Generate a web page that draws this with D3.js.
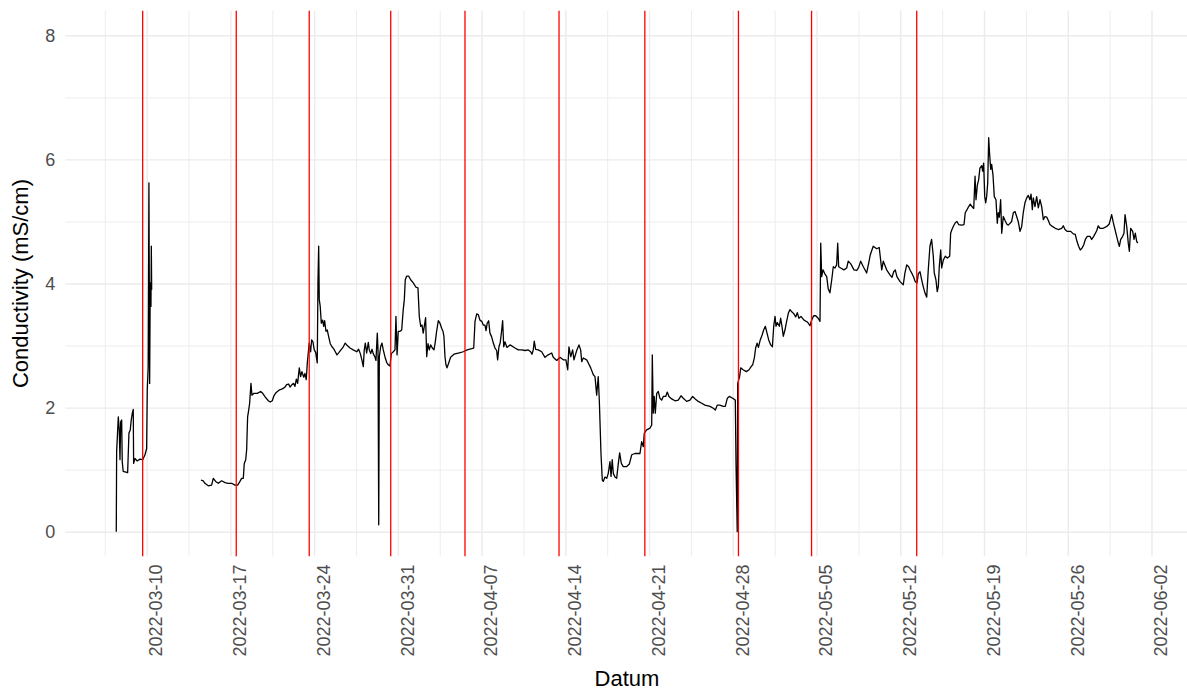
<!DOCTYPE html>
<html><head><meta charset="utf-8">
<script src="https://cdn.jsdelivr.net/npm/d3@7"></script>
<style>
body{margin:0;background:#fff}
svg{display:block}
text{font-family:"Liberation Sans",Arial,Helvetica,sans-serif}
</style>
</head><body>
<svg id="chart" width="1187" height="691"></svg>
<script>
// ---- data ----
const startDate = "2022-03-10T00:00:00Z";           // day 0 of the offsets below
const days = [
-2.54,-2.51,-2.37,-2.29,-2.23,-2.17,-2.09,-2.04,-1.96,-1.59,-1.48,-1.37,-1.29,-1.20,-1.12,-1.09,-0.98,-0.79,-0.56,-0.33,-0.14,0.00,0.05,0.13,0.19,0.25,0.30,0.36,0.39,0.42,
2.00,
4.54,4.73,4.87,5.15,5.43,5.57,5.77,5.99,6.27,6.55,6.82,7.11,7.38,7.61,7.80,7.94,8.08,8.16,8.28,8.36,8.44,8.53,8.61,8.72,8.80,8.97,9.25,9.53,9.70,9.92,
10.17,10.33,10.50,10.64,10.81,11.06,11.34,11.56,11.70,11.87,11.98,12.15,12.29,12.40,12.51,12.62,12.76,12.87,12.98,13.13,13.23,13.34,13.43,13.51,13.59,13.71,13.79,13.90,
14.01,14.13,14.26,14.32,14.38,14.43,14.51,14.60,14.71,14.80,14.88,14.99,15.10,15.22,15.35,15.49,15.63,15.77,15.91,16.08,16.24,16.44,16.60,16.77,17.00,17.27,17.56,17.72,17.86,
18.00,18.11,18.19,18.28,18.39,18.53,18.61,18.73,18.84,18.94,19.09,19.17,19.28,19.34,19.40,19.45,19.56,19.67,19.78,19.92,20.06,20.20,20.34,20.45,20.62,20.76,20.84,20.93,
21.03,21.18,21.32,21.45,21.54,21.62,21.74,21.90,22.07,22.29,22.51,22.68,22.79,22.91,23.02,23.12,23.21,23.32,23.41,23.52,23.63,23.74,23.88,24.02,24.13,24.24,24.38,24.52,24.66,24.77,24.85,24.94,
25.02,25.11,25.25,25.41,25.69,26.13,26.47,26.80,27.17,27.34,27.45,27.59,27.72,27.86,28.01,28.14,28.28,28.37,28.47,28.59,28.70,28.84,28.98,29.12,29.26,29.34,29.45,29.56,29.68,29.76,29.85,29.95,
30.12,30.37,30.56,30.79,31.07,31.35,31.63,31.90,32.10,32.21,32.32,32.40,32.52,32.74,33.02,33.30,33.57,33.86,33.99,34.28,34.55,34.83,35.05,35.20,35.30,35.45,35.61,35.72,35.95,
36.14,36.28,36.37,36.50,36.78,36.92,37.12,37.34,37.48,37.62,37.75,37.84,37.90,37.98,38.09,38.17,38.31,38.46,38.59,38.73,38.82,38.92,39.01,39.15,39.29,39.43,39.54,39.68,39.84,
40.13,40.35,40.55,40.82,41.24,41.38,41.52,41.60,41.80,42.08,42.22,42.27,42.35,42.43,42.52,42.64,42.77,42.91,43.05,43.19,43.39,43.52,43.66,43.89,44.17,44.44,44.67,44.86,
45.14,45.42,45.64,45.86,46.11,46.40,46.67,47.09,47.37,47.54,47.70,47.91,48.20,48.37,48.54,48.71,48.99,49.21,49.27,49.37,49.41,49.57,49.66,49.86,
50.13,50.36,50.53,50.66,50.80,50.91,51.03,51.14,51.28,51.45,51.58,51.72,51.86,52.00,52.17,52.31,52.42,52.53,52.61,52.72,52.89,53.00,53.11,53.22,53.36,53.50,53.64,53.78,53.95,
54.11,54.26,54.39,54.53,54.70,54.95,55.23,55.45,55.59,55.76,55.93,56.14,56.29,56.35,56.43,56.54,56.68,56.85,56.98,57.12,57.27,57.40,57.54,57.68,57.77,57.85,
58.02,58.29,58.52,58.65,58.85,59.13,59.36,59.52,59.69,59.91,60.19,60.36,60.49,60.63,60.74,61.03,61.24,61.45,61.58,61.86,62.14,62.31,62.45,62.58,62.72,62.98,
63.25,63.39,63.54,63.70,63.84,63.98,64.12,64.25,64.40,64.51,64.65,64.79,64.92,65.06,65.21,65.34,65.48,65.62,65.76,65.84,65.98,66.09,66.18,66.26,66.38,66.46,66.60,66.76,66.93,
67.13,67.21,67.32,67.46,67.60,67.74,67.88,68.13,68.33,68.43,68.58,68.72,68.85,68.99,69.14,69.25,69.33,69.44,69.55,69.66,69.81,69.89,69.97,
70.06,70.14,70.22,70.31,70.39,70.47,70.56,70.64,70.75,70.86,71.00,71.11,71.19,71.28,71.39,71.48,71.61,71.75,71.90,72.03,72.17,72.31,72.45,72.59,72.73,72.86,
73.01,73.15,73.28,73.42,73.57,73.70,73.84,73.93,74.04,74.12,74.26,74.40,74.54,74.68,74.82,74.96,75.10,75.24,75.37,75.51,75.71,75.96,76.21,76.49,76.63,76.77,76.96,
77.25,77.46,77.63,77.77,77.91,78.05,78.19,78.33,78.47,78.63,78.86,79.00,79.17,79.42,79.55,79.70,79.97,80.26,80.47,80.67,80.81,80.95,
81.09,81.23,81.31,81.43,81.59,81.70,81.79,81.93,82.06,82.15,82.26,82.43,82.54,82.65,82.76,82.85
];
const cond = [
0.00,1.29,1.85,1.64,1.16,1.77,1.80,1.13,0.97,0.95,1.59,1.64,1.80,1.91,1.97,1.10,1.18,1.14,1.17,1.16,1.24,1.34,2.28,2.66,5.62,2.39,4.01,3.63,4.60,3.90,
null,
0.83,0.82,0.78,0.74,0.75,0.86,0.81,0.78,0.82,0.79,0.78,0.78,0.75,0.75,0.81,0.86,0.86,1.10,1.16,1.32,1.85,1.96,2.07,2.39,2.20,2.23,2.23,2.26,2.23,2.17,
2.11,2.09,2.11,2.19,2.24,2.28,2.30,2.33,2.37,2.38,2.33,2.37,2.39,2.34,2.46,2.39,2.64,2.50,2.58,2.49,2.55,2.45,2.72,2.88,3.04,2.90,3.09,3.06,
2.93,2.89,2.72,4.01,4.60,3.74,3.63,3.36,3.41,3.31,3.40,3.23,3.25,3.14,3.03,2.98,2.95,2.90,2.85,2.89,2.93,2.98,3.04,3.00,2.96,2.93,2.90,2.94,2.87,
2.76,2.66,2.93,3.04,2.88,3.05,2.93,2.87,2.94,2.87,2.81,2.76,3.20,2.93,0.11,2.82,2.98,3.04,2.93,2.82,2.73,2.69,2.67,2.87,2.90,2.93,3.47,2.85,
3.23,3.23,3.25,3.58,3.74,4.06,4.12,4.12,4.06,4.01,3.94,3.93,3.47,3.31,3.33,3.20,3.31,3.45,2.82,3.03,2.93,3.01,2.96,2.93,3.06,3.23,3.40,3.36,3.28,3.23,3.15,2.82,
2.69,2.64,2.72,2.81,2.86,2.88,2.90,2.93,2.95,2.96,3.39,3.51,3.50,3.41,3.39,3.33,3.33,3.24,3.36,3.40,3.20,3.14,3.04,2.96,2.92,2.77,2.98,3.05,3.25,3.40,2.98,3.06,
2.97,3.01,2.99,2.96,2.93,2.93,2.92,2.93,2.90,2.86,2.93,3.07,2.94,2.93,2.90,2.81,2.85,2.88,2.81,2.76,2.81,2.77,2.77,2.61,2.98,2.82,2.93,2.77,2.92,
3.01,2.93,2.74,2.80,2.77,2.72,2.64,2.53,2.50,2.20,2.50,2.12,1.75,1.26,0.83,0.81,0.88,0.86,0.94,1.13,0.89,1.16,0.94,0.88,0.86,1.10,1.27,1.10,1.05,
1.05,1.09,1.24,1.26,1.26,1.45,1.37,1.59,1.64,1.67,1.72,2.85,1.91,2.18,1.91,2.23,2.26,2.15,2.12,2.18,2.18,2.25,2.18,2.14,2.11,2.12,2.19,2.15,
2.10,2.12,2.18,2.14,2.10,2.07,2.04,2.02,1.99,1.96,2.04,2.04,2.02,2.02,2.15,2.18,2.15,2.12,1.07,0.00,2.39,2.50,2.64,2.61,
2.58,2.61,2.66,2.69,2.80,2.96,3.04,2.97,3.08,3.17,3.25,3.31,3.20,3.09,3.01,2.98,3.31,3.47,3.31,3.37,3.31,3.44,3.31,3.15,3.25,3.39,3.52,3.58,3.54,
3.51,3.46,3.53,3.44,3.47,3.41,3.38,3.32,3.41,3.48,3.48,3.44,3.39,4.65,4.11,4.22,4.16,4.11,3.91,3.85,4.06,4.27,4.25,4.30,4.65,4.27,
4.25,4.22,4.25,4.36,4.32,4.22,4.21,4.26,4.36,4.27,4.17,4.33,4.46,4.54,4.60,4.56,4.58,4.22,4.36,4.22,4.14,4.10,4.19,4.22,4.11,4.03,
3.98,4.17,4.30,4.27,4.21,4.16,4.10,4.03,4.01,4.16,4.19,4.06,3.95,3.85,3.78,4.22,4.60,4.71,4.44,4.17,4.06,3.87,3.95,4.27,4.54,4.25,4.38,4.44,4.41,
4.44,4.81,4.87,4.93,4.98,5.00,4.95,4.94,4.95,5.14,5.19,5.24,5.28,5.24,5.21,5.73,5.35,5.58,5.67,5.86,5.90,5.81,5.94,
5.40,5.30,5.40,5.62,6.35,6.08,5.84,5.92,5.75,5.40,5.35,4.97,5.14,5.07,5.35,4.81,5.08,5.02,4.96,4.94,4.97,5.00,5.14,5.16,5.08,5.00,
4.84,4.92,5.14,5.30,5.38,5.42,5.35,5.44,5.19,5.38,5.24,5.40,5.22,5.35,5.24,5.03,5.08,5.07,5.02,4.95,4.92,4.89,4.87,4.89,4.93,4.87,4.84,
4.84,4.80,4.79,4.68,4.60,4.54,4.57,4.62,4.71,4.76,4.76,4.71,4.76,4.85,4.93,4.89,4.89,4.92,4.96,5.11,4.98,4.87,
4.76,4.65,4.60,4.71,4.76,4.81,5.11,4.92,4.65,4.52,4.89,4.84,4.71,4.81,4.68,4.65
];
const samplingDates = [
"2022-03-09T16:00","2022-03-17T11:45","2022-03-23T14:10","2022-03-30T09:40","2022-04-05T14:40",
"2022-04-13T11:20","2022-04-20T15:30","2022-04-28T11:20","2022-05-04T14:00","2022-05-13T09:00"
];
const xTickLabels = ["2022-03-10","2022-03-17","2022-03-24","2022-03-31","2022-04-07","2022-04-14",
"2022-04-21","2022-04-28","2022-05-05","2022-05-12","2022-05-19","2022-05-26","2022-06-02"];
const yTicks = [0, 2, 4, 6, 8];
const yMinorTicks = [1, 3, 5, 7];
const yTitle = "Conductivity (mS/cm)";
const xTitle = "Datum";

// ---- layout ----
const W = 1187, H = 691;
const P = {left: 65.2, right: 1188.8, top: 10.5, bottom: 556.5};
const DAY = 864e5;
const t0 = Date.parse(startDate);
const toDate = d => new Date(t0 + d * DAY);
const parseUTC = s => new Date(s.length > 10 ? s + ":00Z" : s + "T00:00:00Z");

const data = days.map((d, i) => ({t: toDate(d), v: cond[i]}));
const ext = d3.extent(days);
const pad = (ext[1] - ext[0]) * 0.05;
const x = d3.scaleUtc().domain([toDate(ext[0] - pad), toDate(ext[1] + pad)]).range([P.left, P.right]);
const y = d3.scaleLinear().domain([-0.4, 8.4]).range([P.bottom, P.top]);

const majorX = xTickLabels.map(parseUTC);
const minorX = [new Date(+majorX[0] - 3.5 * DAY)].concat(majorX.map(d => new Date(+d + 3.5 * DAY)));

const svg = d3.select("#chart");
svg.append("rect").attr("width", W).attr("height", H).attr("fill", "#fff");
svg.append("clipPath").attr("id", "clip").append("rect")
  .attr("x", P.left).attr("y", P.top).attr("width", P.right - P.left).attr("height", P.bottom - P.top);

const grid = svg.append("g").attr("clip-path", "url(#clip)");
function styleGrid(g, w) {
  g.select(".domain").remove();
  g.selectAll("line").attr("stroke", "#ebebeb").attr("stroke-width", w);
  g.selectAll("text").remove();
}
grid.append("g").attr("transform", `translate(0,${P.bottom})`)
  .call(d3.axisBottom(x).tickValues(minorX).tickSize(-(P.bottom - P.top)).tickFormat(""))
  .call(g => styleGrid(g, 0.9));
grid.append("g").attr("transform", `translate(${P.left},0)`)
  .call(d3.axisLeft(y).tickValues(yMinorTicks).tickSize(-(P.right - P.left)).tickFormat(""))
  .call(g => styleGrid(g, 0.9));
grid.append("g").attr("transform", `translate(0,${P.bottom})`)
  .call(d3.axisBottom(x).tickValues(majorX).tickSize(-(P.bottom - P.top)).tickFormat(""))
  .call(g => styleGrid(g, 1.4));
grid.append("g").attr("transform", `translate(${P.left},0)`)
  .call(d3.axisLeft(y).tickValues(yTicks).tickSize(-(P.right - P.left)).tickFormat(""))
  .call(g => styleGrid(g, 1.4));

// series
const line = d3.line().defined(d => d.v != null).x(d => x(d.t)).y(d => y(d.v));
const plot = svg.append("g").attr("clip-path", "url(#clip)");
plot.append("path").datum(data).attr("d", line)
  .attr("fill", "none").attr("stroke", "#000").attr("stroke-width", 1.3)
  .attr("stroke-linejoin", "round");

// sampling dates
plot.selectAll("line.samp").data(samplingDates.map(parseUTC)).join("line")
  .attr("class", "samp")
  .attr("x1", d => x(d)).attr("x2", d => x(d))
  .attr("y1", P.top).attr("y2", P.bottom)
  .attr("stroke", "#ff0000").attr("stroke-width", 1.3);

// axes labels
const xAxis = svg.append("g").attr("transform", `translate(0,${P.bottom})`)
  .call(d3.axisBottom(x).tickValues(majorX).tickSize(0).tickFormat(d3.utcFormat("%Y-%m-%d")));
xAxis.select(".domain").remove();
xAxis.selectAll("text")
  .attr("transform", "rotate(-90)")
  .attr("text-anchor", "end")
  .attr("x", -8).attr("y", 15.3).attr("dy", 0)
  .attr("fill", "#4d4d4d").style("font-size", "18px");

const yAxis = svg.append("g").attr("transform", `translate(${P.left},0)`)
  .call(d3.axisLeft(y).tickValues(yTicks).tickSize(0).tickPadding(10));
yAxis.select(".domain").remove();
yAxis.selectAll("text").attr("fill", "#4d4d4d").style("font-size", "18px");

svg.append("text").attr("text-anchor", "middle")
  .attr("transform", `translate(28,${(P.top + P.bottom) / 2}) rotate(-90)`)
  .style("font-size", "22px").attr("fill", "#000").text(yTitle);
svg.append("text").attr("text-anchor", "middle")
  .attr("x", (P.left + P.right) / 2).attr("y", 686)
  .style("font-size", "22px").attr("fill", "#000").text(xTitle);
</script>
</body></html>
